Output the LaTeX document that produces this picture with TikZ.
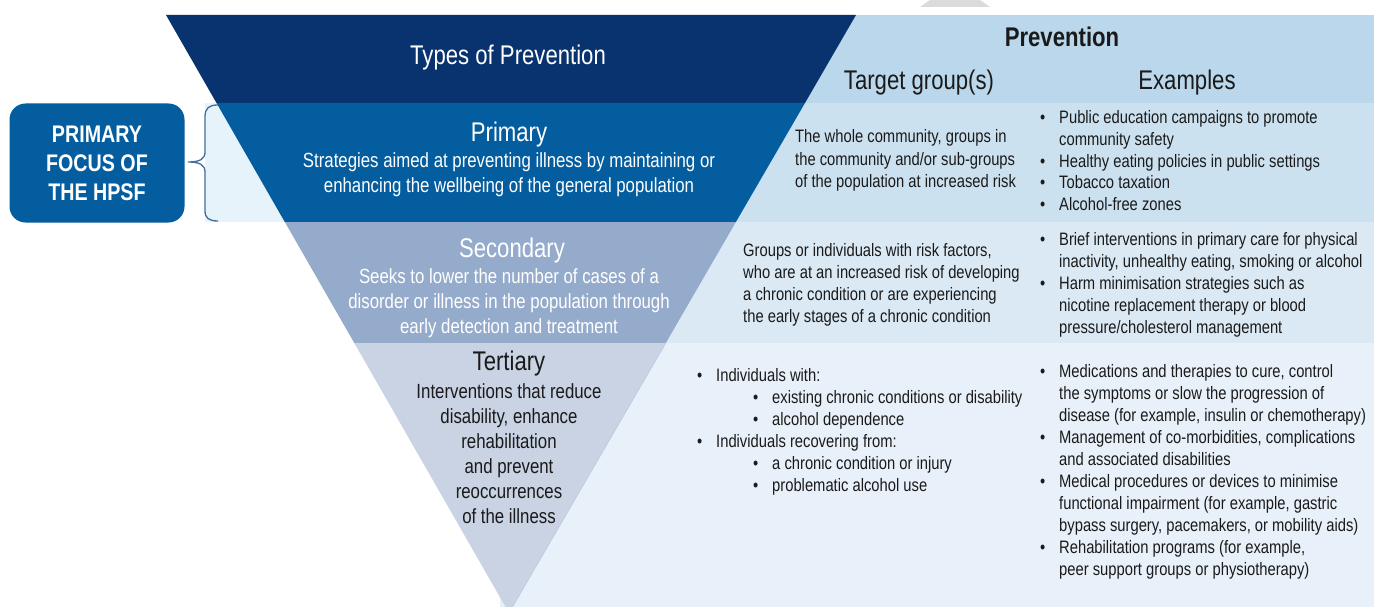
\documentclass[tikz,border=0pt]{standalone}
\usepackage{fontspec}
\setmainfont[FakeStretch=0.82]{Liberation Sans}
\definecolor{navy}{HTML}{08336F}
\definecolor{primblue}{HTML}{045D9E}
\definecolor{secblue}{HTML}{95ABCB}
\definecolor{terblue}{HTML}{C9D3E4}
\definecolor{hdrlight}{HTML}{BAD7EB}
\definecolor{primlight}{HTML}{CCE1EF}
\definecolor{seclight}{HTML}{DBE9F4}
\definecolor{terlight}{HTML}{E8F1F9}
\definecolor{leftlight}{HTML}{E7F3FB}
\definecolor{bracecol}{HTML}{3F6F9E}
\definecolor{ink}{HTML}{1A1A1A}
\newcommand\itm{\llap{•\hspace{14pt}}}
\begin{document}
% multi-line nodes are placed by the baseline of their last line
\begin{tikzpicture}[x=1pt,y=-1pt,
  heading/.style={font=\fontsize{27}{32}\selectfont, inner sep=0pt, anchor=base},
  tribody/.style={font=\fontsize{20.5}{25}\selectfont, inner sep=0pt, align=center, anchor=base},
  sidetext/.style={font=\fontsize{18}{22}\selectfont, inner sep=0pt, align=left, anchor=base west, text=ink},
  boxtext/.style={font=\bfseries\fontsize{24}{29}\selectfont, inner sep=0pt, align=center, anchor=base, text=white}]
\useasboundingbox (0,0) rectangle (1374,607);
\fill[white] (0,0) rectangle (1374,607);

% small grey mark at the top edge
\fill[black!14] (930,0) -- (980,0) -- (990,7) -- (920,7) -- cycle;

% right-hand table panels
\fill[hdrlight]  (731,15)  rectangle (1374,103);
\fill[primlight] (600,103) rectangle (1374,222);
\fill[seclight]  (600,222) rectangle (1374,343);
\fill[terlight]  (500,343) rectangle (1374,607);
\fill[leftlight] (205,103) rectangle (400,222);

% inverted triangle, four bands
\fill[navy]     (166,15) -- (856,15) -- (805,103) -- (216.5,103) -- cycle;
\fill[primblue] (216.5,103) -- (805,103) -- (735.9,222) -- (284.8,222) -- cycle;
\fill[secblue]  (284.8,222) -- (735.9,222) -- (665.8,343) -- (354.3,343) -- cycle;
\fill[terblue]  (354.3,343) -- (665.8,343) -- (509,613) -- cycle;
\draw[terblue!75!secblue, line width=0.6pt] (665.8,343) -- (509,613);

% focus box and brace
\fill[primblue, rounded corners=16pt] (9.5,103.5) rectangle (184.5,222.5);
\node[boxtext] (focus) at (97,200.5) {PRIMARY\\FOCUS OF\\THE HPSF};
\draw[bracecol, line width=1.3pt]
  (218,105) .. controls (209,105) and (205,108) .. (205,117) -- (205,152)
  .. controls (205,159) and (200,162) .. (188,162)
  .. controls (200,162) and (205,165) .. (205,172) -- (205,211)
  .. controls (205,218) and (209,221) .. (218,221);

% triangle texts
\node[heading, text=white] (types) at (508,64.5) {Types of Prevention};
\node[heading, text=white] (prim) at (509,142) {Primary};
\node[tribody, text=white] (primtxt) at (509,193)
  {Strategies aimed at preventing illness by maintaining or\\enhancing the wellbeing of the general population};
\node[heading, text=white] (sec) at (512,257) {Secondary};
\node[tribody, text=white] (sectxt) at (509,333)
  {Seeks to lower the number of cases of a\\disorder or illness in the population through\\early detection and treatment};
\node[heading, text=ink] (ter) at (509,370) {Tertiary};
\node[tribody, text=ink] (tertxt) at (509,523)
  {Interventions that reduce\\disability, enhance\\rehabilitation\\and prevent\\reoccurrences\\of the illness};

% table headings
\node[heading, font=\bfseries\fontsize{27}{32}\selectfont, text=ink] (prev) at (1062,46.5) {Prevention};
\node[heading, text=ink] (target) at (919,89.5) {Target group(s)};
\node[heading, text=ink] (examples) at (1187,89.5) {Examples};

% primary row
\node[sidetext] (primtarget) at (795,187)
  {The whole community, groups in\\the community and/or sub-groups\\of the population at increased risk};
\node[sidetext] (primex) at (1059,211)
  {\itm Public education campaigns to promote\\community safety\\\itm Healthy eating policies in public settings\\\itm Tobacco taxation\\\itm Alcohol-free zones};

% secondary row
\node[sidetext] (sectarget) at (743,322)
  {Groups or individuals with risk factors,\\who are at an increased risk of developing\\a chronic condition or are experiencing\\the early stages of a chronic condition};
\node[sidetext] (secex) at (1059,333)
  {\itm Brief interventions in primary care for physical\\inactivity, unhealthy eating, smoking or alcohol\\\itm Harm minimisation strategies such as\\nicotine replacement therapy or blood\\pressure/cholesterol management};

% tertiary row
\node[sidetext] (tertarget) at (716,491)
  {\itm Individuals with:\\\hspace*{56pt}\itm existing chronic conditions or disability\\\hspace*{56pt}\itm alcohol dependence\\\itm Individuals recovering from:\\\hspace*{56pt}\itm a chronic condition or injury\\\hspace*{56pt}\itm problematic alcohol use};
\node[sidetext] (terex) at (1059,575)
  {\itm Medications and therapies to cure, control\\the symptoms or slow the progression of\\disease (for example, insulin or chemotherapy)\\\itm Management of co-morbidities, complications\\and associated disabilities\\\itm Medical procedures or devices to minimise\\functional impairment (for example, gastric\\bypass surgery, pacemakers, or mobility aids)\\\itm Rehabilitation programs (for example,\\peer support groups or physiotherapy)};
\end{tikzpicture}
\end{document}
